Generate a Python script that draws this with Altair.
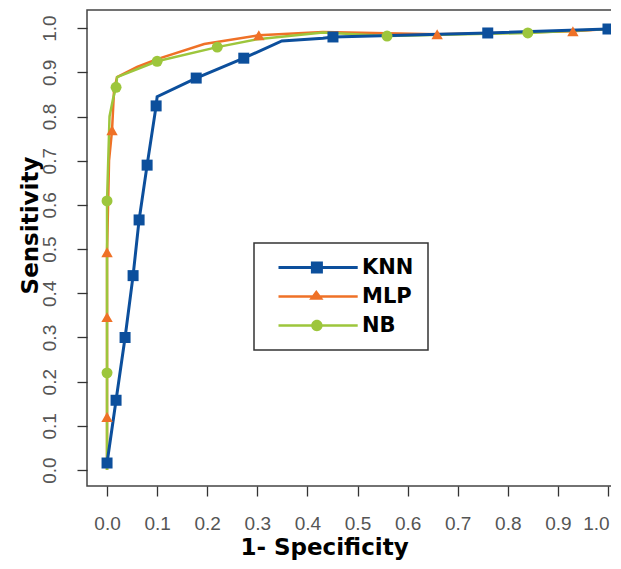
import altair as alt
import pandas as pd

SERIES = ["KNN", "MLP", "NB"]
COLORS = ["#0c4f9c", "#ef7127", "#9dc63c"]

# KNN curve (marker flag: 1 = point drawn with a symbol)
KNN_X = [0.000, 0.018, 0.036, 0.052, 0.064, 0.080, 0.098, 0.100, 0.178, 0.273, 0.349, 0.431, 0.451, 0.760, 1.000]
KNN_Y = [0.016, 0.158, 0.300, 0.440, 0.566, 0.690, 0.824, 0.845, 0.887, 0.932, 0.971, 0.977, 0.980, 0.989, 0.998]
KNN_M = [1, 1, 1, 1, 1, 1, 1, 0, 1, 1, 0, 0, 1, 1, 1]

# MLP curve
MLP_X = [0.000, 0.000, 0.000, 0.000, 0.004, 0.010, 0.014, 0.020, 0.060, 0.100, 0.194, 0.303, 0.431, 0.659, 0.930, 1.000]
MLP_Y = [0.000, 0.120, 0.346, 0.493, 0.700, 0.769, 0.860, 0.889, 0.912, 0.930, 0.964, 0.984, 0.991, 0.986, 0.993, 0.998]
MLP_M = [0, 1, 1, 1, 0, 1, 0, 0, 0, 0, 0, 1, 0, 1, 1, 0]

# NB curve
NB_X = [0.000, 0.000, 0.000, 0.005, 0.012, 0.018, 0.020, 0.100, 0.220, 0.300, 0.431, 0.559, 0.840, 1.000]
NB_Y = [0.000, 0.220, 0.609, 0.800, 0.840, 0.866, 0.889, 0.925, 0.957, 0.975, 0.990, 0.982, 0.989, 0.998]
NB_M = [0, 1, 1, 0, 0, 1, 0, 1, 1, 0, 0, 1, 1, 0]

X_TICKS = [0.0, 0.1, 0.2, 0.3, 0.4, 0.5, 0.6, 0.7, 0.8, 0.9, 1.0]
Y_TICKS = [0.0, 0.1, 0.2, 0.3, 0.4, 0.5, 0.6, 0.7, 0.8, 0.9, 1.0]

# legend symbols: a line segment with the marker in its middle (custom SVG paths)
LEGEND_SHAPES = [
    "M0,-0.27H13.2V0.27H0Z M5.4,-1H7.4V1H5.4Z",
    "M0,-0.22H13.2V0.22H0Z M6.3,-1.1L7.5,0.55L5.1,0.55Z",
    "M0,-0.22H13.2V0.22H0Z M5.45,0A0.95,0.95 0 1,1 7.35,0A0.95,0.95 0 1,1 5.45,0Z",
]

rows = []
for name, xs, ys, ms in [("KNN", KNN_X, KNN_Y, KNN_M), ("MLP", MLP_X, MLP_Y, MLP_M), ("NB", NB_X, NB_Y, NB_M)]:
    for i, (a, b, m) in enumerate(zip(xs, ys, ms)):
        rows.append({"series": name, "x": a, "y": b, "marker": m, "idx": i})
df = pd.DataFrame(rows)

FONT_T = "DejaVu Sans"
FONT_L = "Liberation Sans"

x_enc = alt.X(
    "x:Q",
    scale=alt.Scale(domain=[-0.04, 1.026], nice=False, zero=False),
    axis=alt.Axis(
        values=X_TICKS, format=".1f", title="1- Specificity", grid=False, domain=False,
        tickSize=10, tickColor="#333", tickWidth=1.3,
        labelFont=FONT_L, labelFontSize=19, labelColor="#555", labelPadding=18,
        labelOffset=alt.expr("datum.value == 1 ? -12 : 0"),
        titleFont=FONT_T, titleFontSize=23, titleFontWeight="bold", titleColor="#000",
        titleX=237, titleY=61, titleAlign="center", titleBaseline="middle",
    ),
)
y_enc = alt.Y(
    "y:Q",
    scale=alt.Scale(domain=[-0.036, 1.041], nice=False, zero=False),
    axis=alt.Axis(
        values=Y_TICKS, format=".1f", title="Sensitivity", grid=False, domain=False,
        tickSize=10, tickColor="#333", tickWidth=1.3,
        labelFont=FONT_L, labelFontSize=19, labelColor="#555", labelPadding=28,
        labelAngle=270, labelAlign="center", labelBaseline="middle",
        titleFont=FONT_T, titleFontSize=23, titleFontWeight="bold", titleColor="#000",
        titleAngle=270, titleX=-57, titleY=215, titleAlign="center", titleBaseline="middle",
    ),
)

base = alt.Chart(df)


def line_layer(name, color, width):
    return base.transform_filter(f"datum.series == '{name}'").mark_line(
        color=color, strokeWidth=width
    ).encode(x=x_enc, y=y_enc, order="idx:Q")


def point_layer(name, color, shape, size):
    return base.transform_filter(f"datum.series == '{name}' && datum.marker == 1").mark_point(
        shape=shape, filled=True, color=color, size=size, opacity=1
    ).encode(x=x_enc, y=y_enc)


leg = alt.Legend(
    title=None, orient="none", legendX=167, legendY=233, padding=14,
    strokeColor="#333", fillColor="white",
    labelFont=FONT_T, labelFontSize=21, labelFontWeight="bold", labelColor="#000",
    labelOffset=73, rowPadding=7, symbolSize=144, symbolStrokeWidth=0, symbolOffset=0,
    labelLimit=300,
)

legend_layer = base.transform_filter("false").mark_point(filled=True, opacity=1, size=144).encode(
    x=x_enc, y=y_enc,
    color=alt.Color("series:N", scale=alt.Scale(domain=SERIES, range=COLORS), legend=leg),
    shape=alt.Shape("series:N", scale=alt.Scale(domain=SERIES, range=LEGEND_SHAPES), legend=leg),
)

chart = alt.layer(
    line_layer("MLP", COLORS[1], 2.5),
    line_layer("NB", COLORS[2], 2.5),
    line_layer("KNN", COLORS[0], 3),
    point_layer("KNN", COLORS[0], "square", 121),
    point_layer("MLP", COLORS[1], "triangle-up", 130),
    point_layer("NB", COLORS[2], "circle", 120),
    legend_layer,
).properties(
    width=534, height=476,
    autosize=alt.AutoSizeParams(type="none"),
    padding={"left": 79, "top": 2, "right": -10, "bottom": 75},
).configure_view(stroke="#444", strokeWidth=1.5).configure_legend(strokeWidth=1.5)

chart.save("out.html", embed_options={"renderer": "svg", "actions": False})
